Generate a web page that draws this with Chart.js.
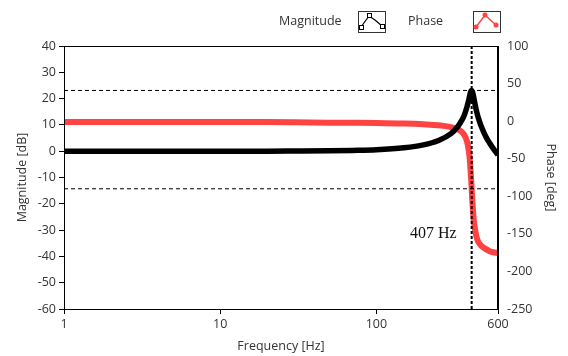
<!DOCTYPE html>
<html>
<head>
<meta charset="utf-8">
<script src="https://cdn.jsdelivr.net/npm/chart.js@4.4.0/dist/chart.umd.min.js"></script>
<style>
  body { margin: 0; background: #fff; }
</style>
</head>
<body>
<canvas id="mychart" width="568" height="356"></canvas>
<script>
// values
var freqs     = [1, 2, 5, 10, 20, 30, 50, 70, 100, 150, 200, 250, 300, 330, 350, 365, 380, 390, 395, 400, 403, 407, 411, 415, 420, 430, 440, 450, 470, 500, 530, 560, 600];
var magnitude = [0, 0, 0, 0, 0, 0.05, 0.15, 0.3, 0.55, 1.3, 2.4, 4.1, 6.7, 9.2, 11.5, 13.7, 16.9, 19.5, 21, 22.3, 22.9, 23.1, 22.7, 21.8, 20.3, 17.2, 14.6, 12.5, 9.3, 5.7, 3.1, 1, -1.4];
var phase     = [-1, -1, -1, -1, -1.2, -1.5, -2, -2.2, -2.5, -3.2, -4.2, -5.5, -8, -10.5, -14, -18.5, -27, -39, -49, -64, -74, -90, -106, -119, -132, -147, -156, -161, -166, -170, -173, -174.5, -175.5];

var xTicks = [1, 10, 100, 600];
var peakDb = 23.1;
var halfPowerPhase = -90;
var resonance = 407;
var resonanceLabel = "407 Hz";

var textColor = "#333";
var uiFont = { family: "Open Sans", size: 12.5 };

function pts(xs, ys) {
  return xs.map(function (x, i) { return { x: x, y: ys[i] }; });
}

// frame, legend and the 407 Hz note
var extras = {
  id: "extras",
  afterDatasetsDraw: function (chart) {
    var ctx = chart.ctx, a = chart.chartArea;
    ctx.save();
    ctx.strokeStyle = "#000";
    ctx.lineWidth = 1;
    ctx.strokeRect(Math.round(a.left) + 0.5, Math.round(a.top) + 0.5,
                   Math.round(a.right - a.left) - 1, Math.round(a.bottom - a.top));
    ctx.restore();
  },
  afterDraw: function (chart) {
    var ctx = chart.ctx;
    var xs = chart.scales.x, ys = chart.scales.y;
    ctx.save();
    // note
    ctx.font = "16px 'Liberation Serif'";
    ctx.fillStyle = "#111";
    ctx.textAlign = "right";
    ctx.textBaseline = "middle";
    ctx.fillText(resonanceLabel, xs.getPixelForValue(resonance) - 15, ys.getPixelForValue(-31.5));

    // legend
    ctx.font = "12.5px 'Open Sans'";
    ctx.fillStyle = textColor;
    ctx.textAlign = "left";
    ctx.fillText("Magnitude", 279, 21);
    ctx.fillText("Phase", 408, 21);

    function box(x) {
      ctx.fillStyle = "#fff";
      ctx.fillRect(x, 11, 27, 21);
      ctx.strokeStyle = "#333";
      ctx.lineWidth = 1;
      ctx.strokeRect(x + 0.5, 11.5, 27, 21);
    }
    box(358);
    ctx.strokeStyle = "#000";
    ctx.lineWidth = 1.2;
    ctx.beginPath();
    ctx.moveTo(361, 27); ctx.lineTo(369, 16); ctx.lineTo(375, 20); ctx.lineTo(382, 26);
    ctx.stroke();
    ctx.lineWidth = 1;
    [[361, 27], [369, 15], [382, 26]].forEach(function (p) {
      ctx.fillStyle = "#fff";
      ctx.fillRect(p[0] - 2, p[1] - 2, 4, 4);
      ctx.strokeRect(p[0] - 2 + 0.5, p[1] - 2 + 0.5, 4, 4);
    });

    box(473);
    ctx.strokeStyle = "#ff4343";
    ctx.fillStyle = "#ff4343";
    ctx.lineWidth = 1.5;
    ctx.beginPath();
    ctx.moveTo(476, 27); ctx.lineTo(485, 15); ctx.lineTo(497, 26);
    ctx.stroke();
    [[476, 27], [485, 15], [496, 25]].forEach(function (p) {
      ctx.beginPath();
      ctx.arc(p[0], p[1], 2.5, 0, Math.PI * 2);
      ctx.fill();
    });
    ctx.restore();
  }
};

var mychart = new Chart("mychart", {
  type: "line",
  data: {
    datasets: [
      {
        label: "peak",
        data: pts([1, 600], [peakDb, peakDb]),
        yAxisID: "y",
        borderColor: "#000",
        borderWidth: 1,
        borderDash: [4, 3],
        pointRadius: 0,
        order: 0
      },
      {
        label: "-90 deg",
        data: pts([1, 600], [halfPowerPhase, halfPowerPhase]),
        yAxisID: "y2",
        borderColor: "#000",
        borderWidth: 1,
        borderDash: [4, 3],
        pointRadius: 0,
        order: 0
      },
      {
        label: "resonance",
        data: pts([resonance, resonance], [-60, 40]),
        yAxisID: "y",
        borderColor: "#000",
        borderWidth: 2,
        borderDash: [3, 2],
        pointRadius: 0,
        order: 0
      },
      {
        label: "Magnitude",
        data: pts(freqs, magnitude),
        yAxisID: "y",
        borderColor: "#000",
        borderWidth: 5.5,
        pointRadius: 0,
        cubicInterpolationMode: "monotone",
        clip: 0,
        order: 1
      },
      {
        label: "Phase",
        data: pts(freqs, phase),
        yAxisID: "y2",
        borderColor: "#ff4343",
        borderWidth: 6,
        pointRadius: 0,
        cubicInterpolationMode: "monotone",
        clip: 0,
        order: 2
      }
    ]
  },
  options: {
    responsive: false,
    animation: false,
    layout: { padding: { top: 46, left: 0, right: 0, bottom: 0 } },
    plugins: {
      legend: { display: false },
      tooltip: { enabled: false }
    },
    scales: {
      x: {
        type: "logarithmic",
        min: 1,
        max: 600,
        afterBuildTicks: function (s) {
          s.ticks = xTicks.map(function (v) { return { value: v }; });
        },
        afterFit: function (s) { s.height = 47; },
        ticks: {
          autoSkip: false,
          maxRotation: 0,
          padding: 3,
          color: textColor,
          font: uiFont,
          callback: function (v) { return String(v); }
        },
        grid: { drawOnChartArea: false, tickLength: 5, color: "#000" },
        border: { color: "#000" },
        title: { display: true, text: "Frequency [Hz]", color: textColor, font: uiFont, padding: { top: 0, bottom: 2 } }
      },
      y: {
        position: "left",
        min: -60,
        max: 40,
        afterFit: function (s) { s.width = 64; },
        ticks: { stepSize: 10, padding: 3, color: textColor, font: uiFont },
        grid: { drawOnChartArea: false, tickLength: 5, color: "#000" },
        border: { color: "#000" },
        title: { display: true, text: "Magnitude [dB]", color: textColor, font: uiFont, padding: { top: 15, bottom: 0 } }
      },
      y2: {
        position: "right",
        min: -250,
        max: 100,
        afterFit: function (s) { s.width = 70; },
        ticks: { stepSize: 50, padding: 9, color: textColor, font: uiFont },
        grid: { drawOnChartArea: false, drawTicks: false, tickLength: 0 },
        border: { color: "#000" },
        title: { display: true, text: "Phase [deg]", color: textColor, font: uiFont, padding: { top: 10, bottom: 0 } }
      }
    }
  },
  plugins: [extras]
});
</script>
</body>
</html>
